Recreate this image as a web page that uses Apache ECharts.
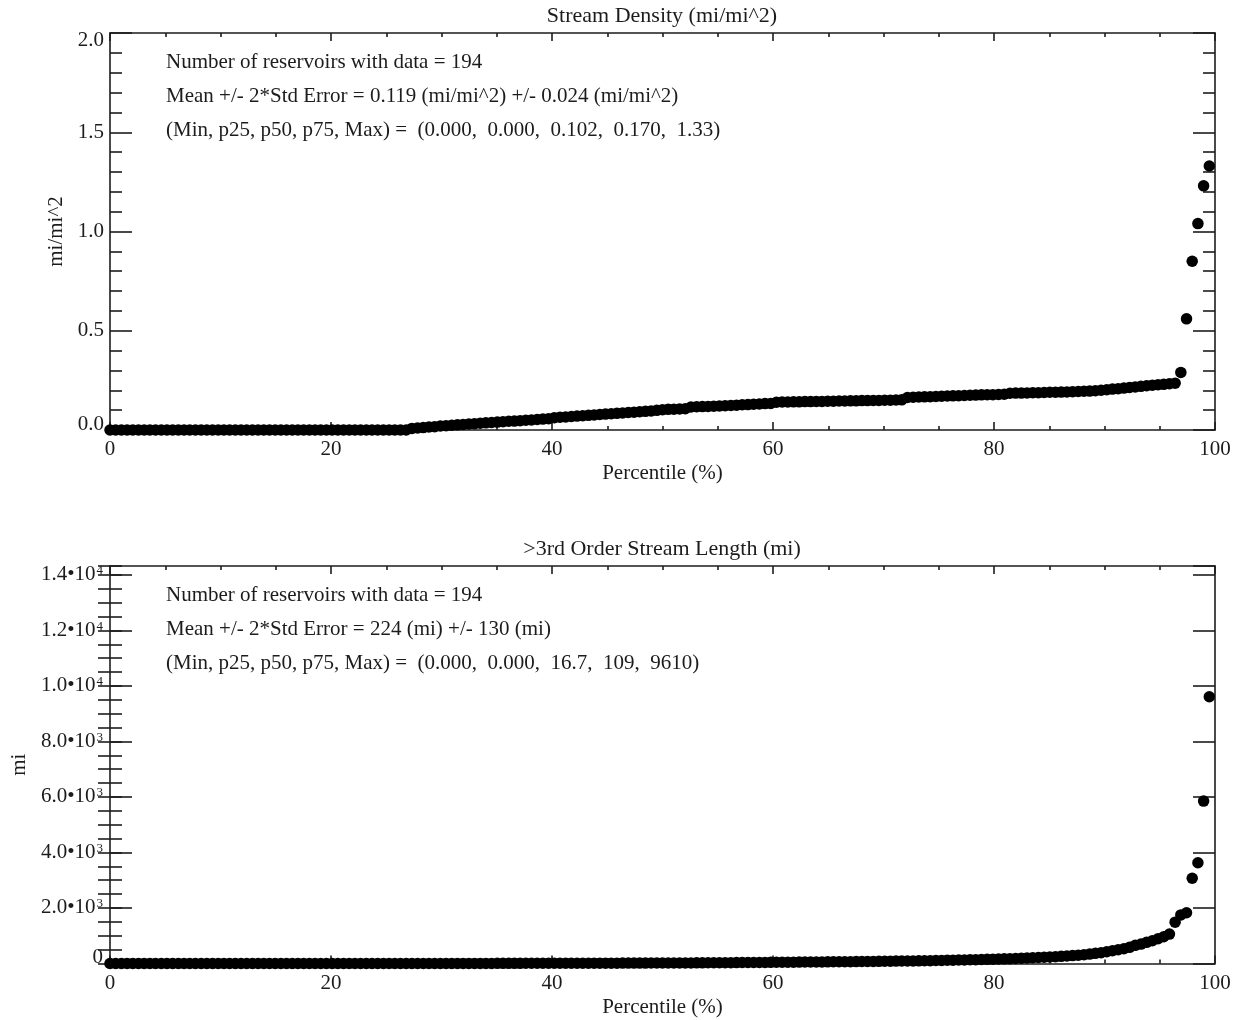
<!DOCTYPE html>
<html><head><meta charset="utf-8">
<script src="https://cdn.jsdelivr.net/npm/echarts@6/dist/echarts.min.js"></script>
<style>html,body{margin:0;padding:0;background:#fff}#c{width:1242px;height:1020px}</style>
</head><body><div id="c"></div>
<script>
// ---------------- DATA ----------------
// Stream density (mi/mi^2), sorted, one value per reservoir (194)
const densityValues = [
  0,0,0,0,0,0,0,0,0,0, 0,0,0,0,0,0,0,0,0,0, 0,0,0,0,0,0,0,0,0,0,
  0,0,0,0,0,0,0,0,0,0, 0,0,0,0,0,0,0,0,0,0, 0,0,0,
  0.008,0.010,0.012,0.015,0.017,
  0.020,0.022,0.024,0.026,0.028,0.030,0.032,0.034,0.036,0.038,
  0.040,0.042,0.044,0.045,0.047,0.049,0.051,0.053,0.055,0.057,
  0.062,0.064,0.066,0.068,0.070,0.072,0.074,0.076,0.078,0.080,
  0.082,0.084,0.086,0.088,0.090,0.092,0.094,0.096,0.099,0.102,
  0.104,0.105,0.106,0.107,
  0.116,0.117,0.118,0.119,0.120,0.121,0.122,0.124,0.125,0.127,
  0.128,0.130,0.131,0.133,0.134,
  0.140,0.141,0.141,0.142,0.142,0.143,0.143,0.144,0.144,0.145,
  0.145,0.146,0.146,0.147,0.147,0.148,0.148,0.149,0.149,0.150,0.150,0.151,0.152,
  0.164,0.165,0.166,0.167,0.168,0.169,0.170,0.171,0.172,0.173,
  0.174,0.175,0.176,0.177,0.178,0.178,0.179,0.180,
  0.185,0.186,0.186,0.187,0.188,0.188,0.189,0.190,0.190,0.191,
  0.192,0.193,0.194,0.195,0.196,0.198,0.200,0.203,0.206,0.208,
  0.211,0.214,0.217,0.220,0.223,0.226,0.228,0.230,0.233,0.236,
  0.29,0.56,0.85,1.04,1.23,1.33
];
// >3rd order stream length (mi), sorted (194)
const lengthValues = [
  0,0,0,0,0,0,0,0,0,0, 0,0,0,0,0,0,0,0,0,0, 0,0,0,0,0,0,0,0,0,0,
  0,0,0,0,0,0,0,0,0,0, 0,0,0,0,0,0,0,0,0,0, 0,0,0,
  0.3,0.5,0.9,1.1,1.6,1.8,2.2,2.4,2.8,3.0,
  3.4,3.6,3.9,4.3,4.5,4.9,5.4,5.7,6.0,6.6,
  6.9,7.2,7.8,8.1,8.4,8.9,9.4,9.7,10.0,10.6,
  10.9,11.2,11.8,12.1,12.4,12.9,13.4,13.7,14.2,14.6,
  15.1,15.5,16.1,16.5,
  17.2,18.0,19.1,20.3,21.0,22.4,23.8,24.5,25.9,27.2,
  28.6,30.1,31.0,32.7,34.2,35.8,37.0,38.9,40.3,41.8,
  43.5,45.0,46.9,48.2,50.1,52.0,53.6,55.4,57.3,59.0,
  61.2,63.0,65.1,67.4,69.5,71.3,73.8,76.0,78.4,80.6,
  83.1,85.7,88.0,90.9,93.6,96.2,99.5,102.8,106.0,
  112,116,121,125,130,134,139,144,150,156,
  162,168,175,182,190,198,207,216,226,236,
  247,259,272,286,301,318,340,
  367,389,425,461,497,533,583,655,700,763,
  820,890,965,1060,1490,1750,1830,3070,3630,5850,9610
];
const xTickLabels = ['0','20','40','60','80','100'];
const densityTickLabels = ['0.0','0.5','1.0','1.5','2.0'];
const lengthTickLabels = ['0','2.0•10^3','4.0•10^3','6.0•10^3','8.0•10^3','1.0•10^4','1.2•10^4','1.4•10^4'];
const topTitle = 'Stream Density (mi/mi^2)';
const bottomTitle = '>3rd Order Stream Length (mi)';
const topInfo = [
  'Number of reservoirs with data = 194',
  'Mean +/- 2*Std Error = 0.119 (mi/mi^2) +/- 0.024 (mi/mi^2)',
  '(Min, p25, p50, p75, Max) =  (0.000,  0.000,  0.102,  0.170,  1.33)'
];
const bottomInfo = [
  'Number of reservoirs with data = 194',
  'Mean +/- 2*Std Error = 224 (mi) +/- 130 (mi)',
  '(Min, p25, p50, p75, Max) =  (0.000,  0.000,  16.7,  109,  9610)'
];

// ---------------- CHART ----------------
const FONT = '"Liberation Serif", "Times New Roman", serif';
const C = '#1c1c1c';
const LS = {color: C, width: 1.6};
const toPairs = vals => vals.map((v, i) => [i * 100 / vals.length, v]);

const G = [
  {left: 110, top: 33, width: 1105, height: 397},
  {left: 110, top: 566, width: 1105, height: 397.5}
];

function xAxes(g) {
  const base = {
    gridIndex: g, type: 'value', min: 0, max: 100, interval: 20,
    axisLine: {show: true, onZero: false, lineStyle: LS},
    axisTick: {show: true, inside: true, length: 8, lineStyle: LS},
    minorTick: {show: true, splitNumber: 4, length: 4, lineStyle: LS},
    splitLine: {show: false}, minorSplitLine: {show: false}
  };
  return [
    Object.assign({}, base, {
      position: 'bottom',
      axisLabel: {margin: 9, color: C, fontFamily: FONT, fontSize: 21,
        formatter: v => xTickLabels[Math.round(v / 20)]},
      name: 'Percentile (%)', nameLocation: 'middle', nameGap: 33,
      nameTextStyle: {color: C, fontFamily: FONT, fontSize: 21}
    }),
    Object.assign({}, base, {position: 'top', axisLabel: {show: false}})
  ];
}
const richBase = {color: C, fontFamily: FONT, fontSize: 21};
const rich = {
  n: richBase,
  hi: Object.assign({}, richBase, {padding: [14, 0, 0, 0]}),
  lo: Object.assign({}, richBase, {padding: [0, 0, 12, 0]}),
  m: richBase,
  s: Object.assign({}, richBase, {fontSize: 13, verticalAlign: 'top', padding: [0, 0, 0, 1]})
};

const yAxisList = [];
// top chart
['left', 'right'].forEach((pos, k) => {
  yAxisList.push({
    gridIndex: 0, type: 'value', position: pos, min: 0, max: 2, interval: 0.5,
    axisLine: {show: true, onZero: false, lineStyle: LS},
    axisTick: {show: true, inside: true, length: 22, lineStyle: LS},
    minorTick: {show: true, splitNumber: 5, length: 12, lineStyle: LS},
    splitLine: {show: false}, minorSplitLine: {show: false},
    axisLabel: k === 0 ? {
      margin: 6, rich: rich,
      formatter: v => {
        const t = densityTickLabels[Math.round(v / 0.5)];
        if (v === 0) return '{lo|' + t + '}';
        if (v === 2) return '{hi|' + t + '}';
        return '{n|' + t + '}';
      }
    } : {show: false},
    name: k === 0 ? 'mi/mi^2' : '', nameLocation: 'middle', nameGap: 41,
    nameTextStyle: {color: C, fontFamily: FONT, fontSize: 21}
  });
});
// bottom chart: major + minor axes on each side
const LMAX = 14320;
['left', 'right'].forEach((pos, k) => {
  yAxisList.push({
    gridIndex: 1, type: 'value', position: pos, min: 0, max: LMAX, interval: 2000,
    axisLine: {show: true, onZero: false, lineStyle: LS},
    axisTick: {show: true, inside: true, length: 22, lineStyle: LS},
    splitLine: {show: false},
    axisLabel: k === 0 ? {
      margin: 7, rich: rich, showMaxLabel: false,
      formatter: v => {
        const t = lengthTickLabels[Math.round(v / 2000)];
        if (t === undefined) return '';
        if (v === 0) return '{lo|' + t + '}';
        const p = t.split('^');
        return '{m|' + p[0] + '}{s|' + p[1] + '}';
      }
    } : {show: false},
    name: k === 0 ? 'mi' : '', nameLocation: 'middle', nameGap: 78,
    nameTextStyle: {color: C, fontFamily: FONT, fontSize: 21}
  });
  yAxisList.push({
    gridIndex: 1, type: 'value', position: pos, min: 0, max: LMAX, interval: 500,
    axisLine: {show: false},
    axisTick: {show: true, inside: true, length: 12, lineStyle: LS},
    splitLine: {show: false}, axisLabel: {show: false}
  });
});

const infoGraphics = [];
function addInfo(lines, ys) {
  lines.forEach((t, i) => infoGraphics.push({
    type: 'text', left: 166, top: ys[i] - 11,
    style: {text: t, fill: C, font: '21px ' + FONT}
  }));
}
addInfo(topInfo, [63, 97, 131]);
addInfo(bottomInfo, [596, 630, 664]);
[[topTitle, 16], [bottomTitle, 549]].forEach(([t, y]) => infoGraphics.push({
  type: 'text', x: 662, y: y,
  style: {text: t, fill: C, font: '22px ' + FONT, textAlign: 'center', textVerticalAlign: 'middle'}
}));

const chart = echarts.init(document.getElementById('c'), null, {renderer: 'canvas'});
chart.setOption({
  animation: false,
  backgroundColor: '#fff',
  grid: G,
  xAxis: [...xAxes(0), ...xAxes(1)],
  yAxis: yAxisList,
  graphic: infoGraphics,
  series: [
    {type: 'scatter', xAxisIndex: 0, yAxisIndex: 0, data: toPairs(densityValues),
     symbolSize: 11.5, clip: false, silent: true, itemStyle: {color: '#000', opacity: 1}},
    {type: 'scatter', xAxisIndex: 2, yAxisIndex: 2, data: toPairs(lengthValues),
     symbolSize: 11.5, clip: false, silent: true, itemStyle: {color: '#000', opacity: 1}}
  ]
});
</script></body></html>
